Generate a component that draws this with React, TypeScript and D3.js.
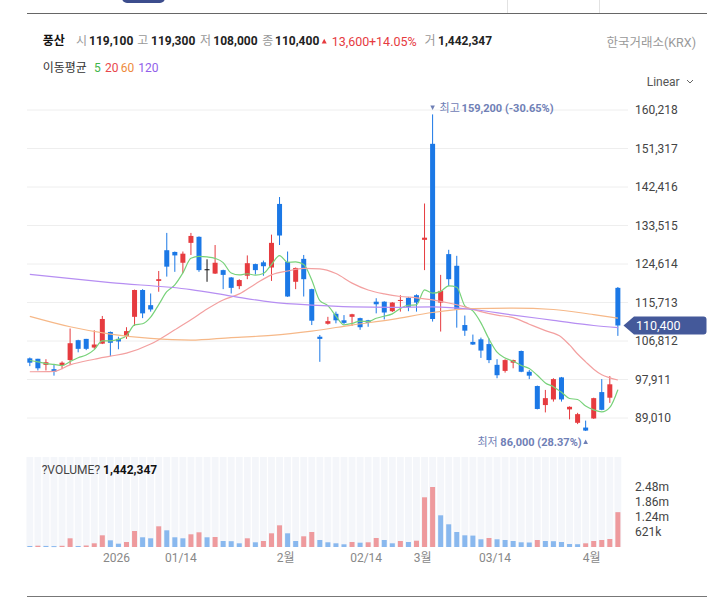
import React from "react";
import * as d3 from "d3";

// ---------- data ----------
const dates = [
  "2025-12-15","2025-12-16","2025-12-17","2025-12-18","2025-12-19","2025-12-22","2025-12-23","2025-12-24","2025-12-26","2025-12-29",
  "2025-12-30","2026-01-02","2026-01-05","2026-01-06","2026-01-07","2026-01-08","2026-01-09","2026-01-12","2026-01-13","2026-01-14",
  "2026-01-15","2026-01-16","2026-01-19","2026-01-20","2026-01-21","2026-01-22","2026-01-23","2026-01-26","2026-01-27","2026-01-28",
  "2026-01-29","2026-01-30","2026-02-02","2026-02-03","2026-02-04","2026-02-05","2026-02-06","2026-02-09","2026-02-10","2026-02-11",
  "2026-02-12","2026-02-13","2026-02-19","2026-02-20","2026-02-23","2026-02-24","2026-02-25","2026-02-26","2026-02-27","2026-03-03",
  "2026-03-04","2026-03-05","2026-03-06","2026-03-09","2026-03-10","2026-03-11","2026-03-12","2026-03-13","2026-03-16","2026-03-17",
  "2026-03-18","2026-03-19","2026-03-20","2026-03-23","2026-03-24","2026-03-25","2026-03-26","2026-03-27","2026-03-30","2026-03-31",
  "2026-04-01","2026-04-02","2026-04-03","2026-04-06",
];

const opens = [
  102800,102700,101300,100300,101200,102400,107000,107300,105300,106200,
  108900,107300,108000,112400,118600,115100,120700,127800,127400,124900,
  129500,130900,123400,122400,123200,121500,119500,121900,124600,125000,
  123800,138500,125100,120500,125800,118800,107800,110800,113100,111600,
  112400,112100,111600,115900,115900,113700,116100,116800,117400,130200,
  152400,115700,126900,124200,110500,106600,107200,106100,101300,99900,
  101800,104500,99700,96400,92000,93300,98400,91000,87900,86800,
  88900,95000,93700,119100,
];
const highs = [
  103000,102700,102600,101500,102100,109700,107100,107300,109300,112600,
  109000,107800,110000,118700,118800,117800,123000,131800,127500,127500,
  131800,131000,125700,129000,123300,121600,121100,126600,124700,125400,
  131400,140100,127500,123800,126700,118900,108200,112400,113600,112800,
  113100,112200,111700,116700,116000,115800,117400,117000,117600,138600,
  159200,122100,127900,126500,112700,108300,107600,107400,102600,102600,
  102500,104600,100100,96500,95500,98200,98500,91700,90200,88400,
  93700,98000,98700,119300,
];
const lows = [
  101000,100000,100000,98800,100300,101300,104200,104700,105000,106100,
  103300,104900,107300,110300,112100,113600,118200,121700,122800,122500,
  126700,122800,120500,122300,118800,117800,118800,121100,122200,121900,
  120700,129000,117000,118800,117100,110500,102000,110600,110900,110700,
  110300,109400,110100,113200,111800,113500,113600,113700,113600,123200,
  111300,109000,119500,109900,108000,105900,102900,101700,98200,99500,
  100500,99600,98000,91000,90300,92800,92800,88700,87600,86000,
  88800,90800,92500,108000,
];
const closes = [
  101800,100500,101900,99700,101800,106300,105000,105000,106000,111900,
  106400,106700,109100,118600,113200,114100,121100,124000,126600,127000,
  131100,123200,123400,124900,122100,119100,120900,124800,123200,124100,
  129500,131200,117100,123700,121100,111500,107300,111400,111600,111000,
  113000,110000,111000,115300,113400,115700,116300,114700,115700,130700,
  111900,118400,121100,114100,109200,106000,104600,102400,98900,102400,
  102400,99700,98800,91100,93600,98000,93300,91600,89900,86100,
  93600,90900,96800,110400,
];
const volumes = [
  42000,54000,45000,38000,50000,360000,42000,62000,153000,484000,
  277000,137000,207000,662000,402000,360000,857000,691000,402000,360000,
  526000,609000,402000,414000,248000,240000,153000,360000,195000,248000,
  567000,898000,567000,248000,443000,621000,290000,195000,153000,112000,
  207000,178000,195000,373000,290000,153000,248000,207000,261000,2058000,
  2484000,1312000,940000,621000,484000,472000,319000,373000,319000,290000,
  248000,195000,186000,290000,248000,240000,207000,124000,116000,153000,
  248000,290000,331000,1442347,
];

// 5-day average for the first four sessions (window reaches before the chart)
const ma5Head = [102300, 102000, 101600, 101400];

// moving averages: session index + value
const ma20At = [0,3,5,8,10,12,15,18,20,22,24,26,28,30,32,34,36,38,40,42,44,46,48,50,52,54,56,58,60,62,64,66,67,68,69,70,71,72,73];
const ma20Values = [
  99700,99800,101300,102600,103300,104000,106100,109400,111700,114200,
  116300,117700,120000,122100,123000,123600,123500,122400,120200,118600,
  117700,117100,116800,116300,115600,114700,113600,112800,112200,110700,
  109200,107700,105900,103800,102000,100300,99000,98300,97800,
];
const ma60At = [0,5,10,15,20,25,30,35,40,45,50,55,60,65,70,73];
const ma60Values = [
  112500,110100,108400,107400,107000,107600,108100,109100,110500,111800,
  113400,114300,114400,114100,112900,112100,
];
const ma120At = [0,10,20,25,30,35,40,45,50,55,60,65,70,73];
const ma120Values = [
  122200,120300,118700,117200,115800,115100,114700,114600,114700,114100,
  112800,111600,110400,109900,
];

const priceTicks = [89010, 97911, 106812, 115713, 124614, 133515, 142416, 151317, 160218];
const xTickDates = ["2026-01-02","2026-01-14","2026-02-02","2026-02-19","2026-03-03","2026-03-16","2026-04-01"];
const xTickLabels = ["2026","01/14","2월","02/14","3월","03/14","4월"];

const stockName = "풍산";
const exchange = "한국거래소(KRX)";
const maPeriods = ["5", "20", "60", "120"];

// ---------- styles ----------
const F = "Roboto, 'Noto Sans CJK KR', sans-serif";
const UP = "#e63b3f";
const DOWN = "#1b78e6";
const VUP = "#ee9a9d";
const VDOWN = "#89b8ee";
const MA_COL = ["#78d27a", "#f3a0a0", "#f6b888", "#b68ef2"];
const MA_TXT = ["#3fb54a", "#e8474c", "#ee8a3c", "#9160ea"];
const LABEL_BLUE = "#6f80b6";

const fmt = d3.format(",");

function volFmt(v: number) {
  if (v >= 1e6) return (v / 1e6).toFixed(2) + "m";
  return Math.round(v / 1e3) + "k";
}

export default function App() {
  const n = dates.length;
  const x = d3.scaleBand<string>().domain(dates).range([25.8, 621.9]).padding(0);
  const bw = x.bandwidth();
  const cx = (i: number) => (x(dates[i]) as number) + bw / 2;
  const cxd = (d: string) => (x(d) as number) + bw / 2;
  const y = d3.scaleLinear().domain([priceTicks[0], priceTicks[priceTicks.length - 1]]).range([418, 110]);
  const vMax = d3.max(volumes) as number;
  const yv = d3.scaleLinear().domain([0, vMax * 1.5]).range([547, 457]);
  const volTicks = [1, 2, 3, 4].map((k) => (vMax * k) / 4);

  const ma5 = closes.map((_, i) => (i < 4 ? ma5Head[i] : (d3.mean(closes.slice(i - 4, i + 1)) as number)));

  const line = d3
    .line<[number, number]>()
    .x((d) => cx(d[0]))
    .y((d) => y(d[1]))
    .curve(d3.curveMonotoneX);

  const maSeries: [number, number][][] = [
    ma5.map((v, i) => [i, v] as [number, number]),
    ma20At.map((i, k) => [i, ma20Values[k]] as [number, number]),
    ma60At.map((i, k) => [i, ma60Values[k]] as [number, number]),
    ma120At.map((i, k) => [i, ma120Values[k]] as [number, number]),
  ];

  const last = n - 1;
  const lastClose = closes[last];
  const change = lastClose - closes[last - 1];
  const pct = (change / closes[last - 1]) * 100;
  const maxHigh = d3.max(highs) as number;
  const maxIdx = highs.indexOf(maxHigh);
  const minLow = d3.min(lows) as number;
  const minIdx = lows.indexOf(minLow);
  const maxPct = (lastClose / maxHigh - 1) * 100;
  const minPct = (lastClose / minLow - 1) * 100;

  const gridX0 = 27;
  const gridX1 = 628;

  const tagY = y(lastClose);
  const hx = cx(maxIdx);
  const lx = cx(minIdx);

  return (
    <div style={{ position: "absolute", left: 0, top: 0 }}>
      <svg width={721} height={611} style={{ display: "block", background: "#fff" }} fontFamily={F}>
        {/* top bar */}
        <rect x={122} y={-10} width={43} height={13} rx={5} fill="#3c4d8d" />
        <line x1={507.5} x2={507.5} y1={0} y2={13} stroke="#e2e2e2" />
        <line x1={599.5} x2={599.5} y1={0} y2={13} stroke="#e2e2e2" />
        <line x1={27} x2={707} y1={13.5} y2={13.5} stroke="#666" />

        {/* header */}
        <g fontSize={12} dominantBaseline="central">
          <text x={42.7} y={41} fontWeight={700} fill="#111" fontSize={12}>{stockName}</text>
          <text x={76} y={41} fill="#999">시</text>
          <text x={89} y={41} fill="#222" fontWeight={700}>{fmt(opens[last])}</text>
          <text x={137.3} y={41} fill="#999">고</text>
          <text x={151} y={41} fill="#222" fontWeight={700}>{fmt(highs[last])}</text>
          <text x={200} y={41} fill="#999">저</text>
          <text x={213.3} y={41} fill="#222" fontWeight={700}>{fmt(lows[last])}</text>
          <text x={262.3} y={41} fill="#999">종</text>
          <text x={275} y={41} fill="#222" fontWeight={700}>{fmt(lastClose)}</text>
          <path d="M321.7,43.5 L326.7,43.5 L324.2,38.7 Z" fill={UP} />
          <text x={331.7} y={41} fill={UP} fontSize={12.5}>{fmt(change)}</text>
          <text x={369} y={41} fill={UP} fontSize={12.5}>{"+" + pct.toFixed(2) + "%"}</text>
          <text x={424.5} y={41} fill="#999">거</text>
          <text x={438} y={41} fill="#222" fontWeight={700}>{fmt(volumes[last])}</text>
          <text x={696} y={42} fill="#999" textAnchor="end" fontSize={12.5}>{exchange}</text>
        </g>

        {/* MA legend */}
        <g fontSize={12} dominantBaseline="central">
          <text x={42.7} y={67.7} fill="#333">이동평균</text>
          <text x={94} y={67.7} fill={MA_TXT[0]}>{maPeriods[0]}</text>
          <text x={105} y={67.7} fill={MA_TXT[1]}>{maPeriods[1]}</text>
          <text x={120.7} y={67.7} fill={MA_TXT[2]}>{maPeriods[2]}</text>
          <text x={138.3} y={67.7} fill={MA_TXT[3]}>{maPeriods[3]}</text>
        </g>

        {/* Linear selector */}
        <text x={646.7} y={81.7} fontSize={12} fill="#555" dominantBaseline="central">Linear</text>
        <path d="M687,80 L690,83 L693,80" fill="none" stroke="#666" strokeWidth={1} />

        {/* horizontal grid */}
        {priceTicks.map((t) => (
          <line key={"hg" + t} x1={gridX0} x2={gridX1} y1={y(t)} y2={y(t)} stroke="#eeeeee" />
        ))}
        {/* price axis labels */}
        {priceTicks.map((t) => (
          <text key={"pl" + t} x={635} y={y(t)} fontSize={12} fill="#444" dominantBaseline="central">
            {fmt(t)}
          </text>
        ))}

        {/* candles */}
        {dates.map((d, i) => {
          const o = opens[i], c = closes[i];
          const col = c > o ? UP : c < o ? DOWN : "#111";
          const xc = cx(i);
          const top = y(Math.max(o, c));
          const bot = y(Math.min(o, c));
          return (
            <g key={"c" + d}>
              <line x1={xc} x2={xc} y1={y(highs[i])} y2={y(lows[i])} stroke={col} strokeWidth={1} />
              <rect x={xc - 2.5} y={top} width={5} height={Math.max(1, bot - top)} fill={col} />
            </g>
          );
        })}

        {/* moving averages */}
        {maSeries.map((s, k) => (
          <path key={"ma" + k} d={line(s) as string} fill="none" stroke={MA_COL[k]} strokeWidth={1.2} />
        ))}

        {/* high / low labels */}
        <g fill={LABEL_BLUE} fontSize={11} dominantBaseline="central">
          <path d={`M${hx - 2.3},105.5 L${hx + 2.3},105.5 L${hx},110 Z`} />
          <text x={hx + 7} y={108}>최고</text>
          <text x={hx + 29} y={108} fontWeight={700}>{fmt(maxHigh) + " (" + maxPct.toFixed(2) + "%)"}</text>
          <path d={`M${lx - 2.3},444 L${lx + 2.3},444 L${lx},439.5 Z`} />
          <text x={lx - 4} y={441.5} textAnchor="end">
            <tspan>최저 </tspan>
            <tspan fontWeight={700}>{fmt(minLow) + " (" + minPct.toFixed(2) + "%)"}</tspan>
          </text>
        </g>

        {/* current price tag */}
        <path
          d={`M623.5,${tagY} L634,${tagY - 9} L703.5,${tagY - 9} Q706.5,${tagY - 9} 706.5,${tagY - 6} L706.5,${tagY + 6} Q706.5,${tagY + 9} 703.5,${tagY + 9} L634,${tagY + 9} Z`}
          fill="#44599a"
        />
        <text x={636} y={tagY} fontSize={12.5} fill="#fff" dominantBaseline="central">{fmt(lastClose)}</text>

        {/* volume panel */}
        {dates.map((d, i) => (
          <rect key={"vb" + d} x={cx(i) - 3.4} y={457} width={6.8} height={90} fill="#f4f6fa" />
        ))}
        {dates.map((d, i) => {
          const up = i > 0 && volumes[i] >= volumes[i - 1];
          const top = yv(volumes[i]);
          return (
            <rect key={"v" + d} x={cx(i) - 2.5} y={top} width={5} height={Math.max(1, 547 - top)} fill={up ? VUP : VDOWN} />
          );
        })}
        <text x={41.7} y={470} fontSize={12} fill="#444" dominantBaseline="central">
          <tspan>?VOLUME? </tspan>
          <tspan fontWeight={700} fill="#111">{fmt(volumes[last])}</tspan>
        </text>
        {volTicks.map((t) => (
          <text key={"vt" + t} x={635} y={yv(t)} fontSize={12} fill="#444" dominantBaseline="central">
            {volFmt(t)}
          </text>
        ))}

        {/* x axis labels */}
        {xTickDates.map((d, k) => (
          <text key={"xl" + d} x={cxd(d) - 2} y={558.3} fontSize={12} fill="#888" textAnchor="middle" dominantBaseline="central">
            {xTickLabels[k]}
          </text>
        ))}

        <line x1={27} x2={707} y1={596.5} y2={596.5} stroke="#777" />
      </svg>
    </div>
  );
}
